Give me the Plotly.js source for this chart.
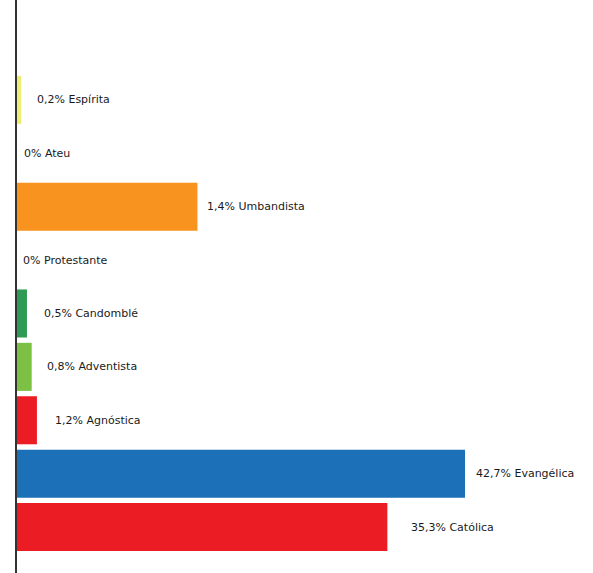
<!DOCTYPE html>
<html>
<head>
<meta charset="utf-8">
<script src="https://cdn.plot.ly/plotly-3.0.1.min.js"></script>
<style>
html,body{margin:0;padding:0;background:#fff;overflow:hidden;}
#chart{width:593px;height:573px;}
</style>
</head>
<body>
<div id="chart"></div>
<script>
// Categories, bottom to top
const categories = ["Católica","Evangélica","Agnóstica","Adventista","Candomblé","Protestante","Umbandista","Ateu","Espírita"];
// Labels shown in the picture
const labels = ["35,3% Católica","42,7% Evangélica","1,2% Agnóstica","0,8% Adventista","0,5% Candomblé","0% Protestante","1,4% Umbandista","0% Ateu","0,2% Espírita"];
// Bar lengths as drawn in the picture (same units as the two big bars, in %)
const barLengths = [35.3, 42.7, 1.9, 1.4, 0.95, 0, 17.2, 0, 0.4];
const colors = ["#ec1c24","#1b70b7","#ec1c24","#7cc143","#2f9a55","#cccccc","#f7931e","#cccccc","#eeee77"];
// pixel gaps between bar end and its label
const labelGap = [22, 9, 16, 13, 15, 4, 8, 5, 14];

const annotations = categories.map((c, i) => ({
  x: barLengths[i], y: c, xref: "x", yref: "y",
  text: labels[i], showarrow: false, xanchor: "left", yanchor: "middle",
  xshift: labelGap[i],
  font: {family: "DejaVu Sans, sans-serif", size: 11, color: "#1a1a1a"}
}));

Plotly.newPlot("chart", [{
  type: "bar", orientation: "h",
  y: categories, x: barLengths,
  marker: {color: colors},
  width: 0.9,
  hoverinfo: "none"
}], {
  width: 593, height: 573,
  margin: {l: 17, r: 0, t: 0, b: 0},
  paper_bgcolor: "#fff", plot_bgcolor: "#fff",
  showlegend: false,
  xaxis: {range: [0, 54.9], showgrid: false, zeroline: false, showticklabels: false, showline: false, ticks: ""},
  yaxis: {range: [-0.86, 9.87], showgrid: false, zeroline: false, showticklabels: false,
          showline: true, linecolor: "#333", linewidth: 2, ticks: "", type: "category"},
  annotations: annotations
}, {displayModeBar: false, staticPlot: true});
</script>
</body>
</html>
